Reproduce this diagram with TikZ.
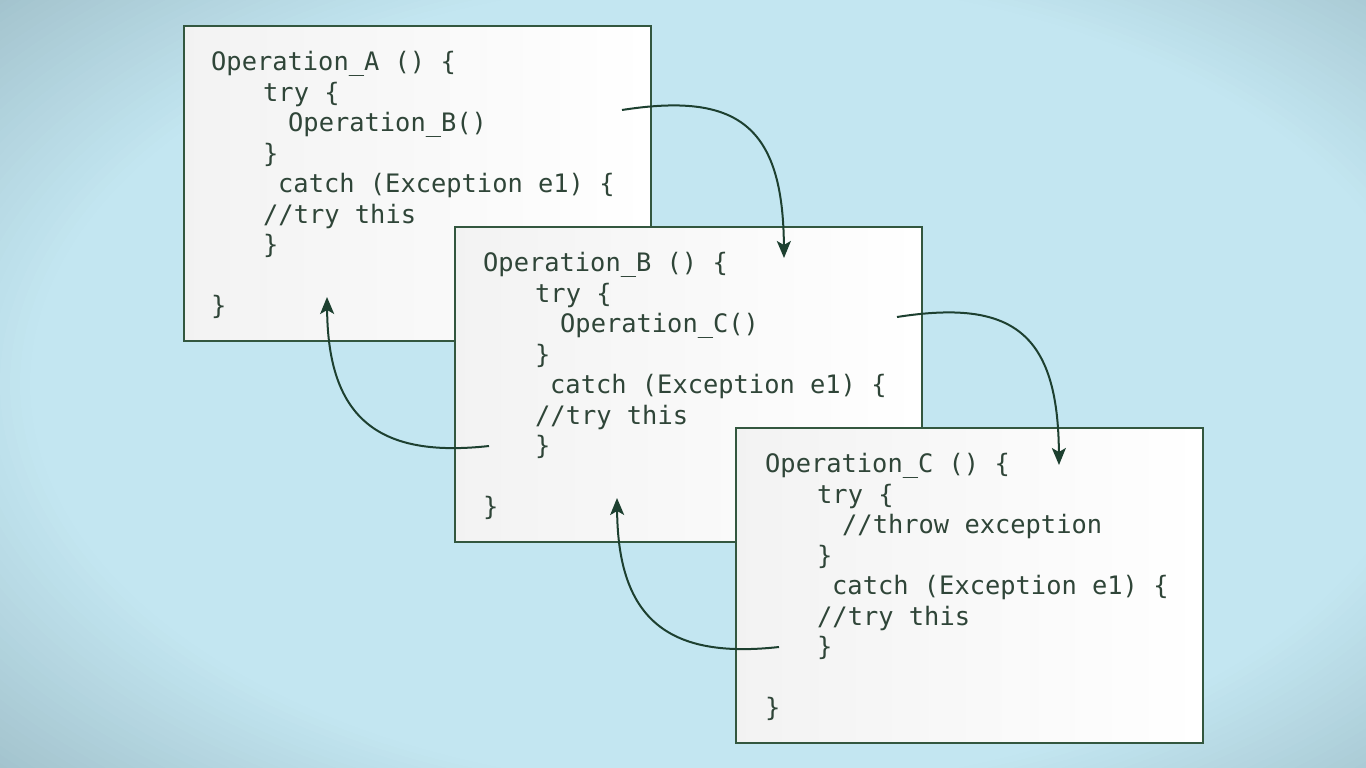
\documentclass[tikz,border=0pt]{standalone}
\usepackage{fontspec}
\setmonofont{DejaVu Sans Mono}
\usetikzlibrary{arrows.meta}
\usetikzlibrary{calc}
\definecolor{bgin}{HTML}{C3E6F1}
\definecolor{bgout}{HTML}{A2C2CC}
\definecolor{boxline}{HTML}{33573F}
\definecolor{codecol}{HTML}{2F4538}
\definecolor{arrowcol}{HTML}{1D4030}
\tikzset{code box/.style={rectangle,draw=boxline,line width=2pt,left color=black!5,right color=white,
    minimum width=467pt,minimum height=315pt,anchor=north west,inner sep=0pt},
  code text/.style={anchor=north west,inner sep=0pt,align=left,text=codecol,
    font=\ttfamily\fontsize{25.4}{30.5}\selectfont},
  flow arrow/.style={draw=arrowcol,line width=2pt,-{Stealth[length=17pt,width=14pt,inset=4pt]}},}

\begin{document}
\begin{tikzpicture}[x=1pt,y=-1pt]
      \useasboundingbox (0,0) rectangle (1366,768);
      % backdrop, lighter towards the middle
      \begin{scope}
        \clip (0,0) rectangle (1366,768);
        \fill[bgout] (0,0) rectangle (1366,768);
        \foreach \i in {0,...,30} {
          \pgfmathsetmacro\rx{1000-10*\i}
          \pgfmathsetmacro\pct{\i*100/30}
          \fill[bgin!\pct!bgout] (730,384) ellipse ({\rx} and {0.58*\rx});
        }
      \end{scope}

      \node[code box] (opA) at (183,25) {};
      \node[code box] (opB) at (454,226) {};
      \node[code box] (opC) at (735,427) {};

      \node[code text] (codeA) at ($(opA.north west)+(28,26)$) {Operation\_A () \{\\
        \hspace*{52pt}try \{\\
        \hspace*{77pt}Operation\_B()\\
        \hspace*{52pt}\}\\
        \hspace*{67pt}catch (Exception e1) \{\\
        \hspace*{52pt}//try this\\
        \hspace*{52pt}\}\\[30.5pt]
        \}};
      \node[code text] (codeB) at ($(opB.north west)+(29,26)$) {Operation\_B () \{\\
        \hspace*{52pt}try \{\\
        \hspace*{77pt}Operation\_C()\\
        \hspace*{52pt}\}\\
        \hspace*{67pt}catch (Exception e1) \{\\
        \hspace*{52pt}//try this\\
        \hspace*{52pt}\}\\[30.5pt]
        \}};
      \node[code text] (codeC) at ($(opC.north west)+(30,26)$) {Operation\_C () \{\\
        \hspace*{52pt}try \{\\
        \hspace*{77pt}//throw exception\\
        \hspace*{52pt}\}\\
        \hspace*{67pt}catch (Exception e1) \{\\
        \hspace*{52pt}//try this\\
        \hspace*{52pt}\}\\[30.5pt]
        \}};

      \coordinate (A call) at (622,110);
      \coordinate (B entry) at (784,258);
      \coordinate (B call) at (897,317);
      \coordinate (C entry) at (1059,465);
      \coordinate (C back) at (779,647);
      \coordinate (B catch) at (617,498);
      \coordinate (B back) at (489,446);
      \coordinate (A catch) at (327,297);

      \draw[flow arrow] (A call) .. controls +(115,-18) and +(-1,-133) .. (B entry);
      \draw[flow arrow] (B call) .. controls +(115,-18) and +(-1,-133) .. (C entry);
      \draw[flow arrow] (B back) .. controls +(-109,12) and +(1,123) .. (A catch);
      \draw[flow arrow] (C back) .. controls +(-109,12) and +(1,123) .. (B catch);
    \end{tikzpicture}
\end{document}
